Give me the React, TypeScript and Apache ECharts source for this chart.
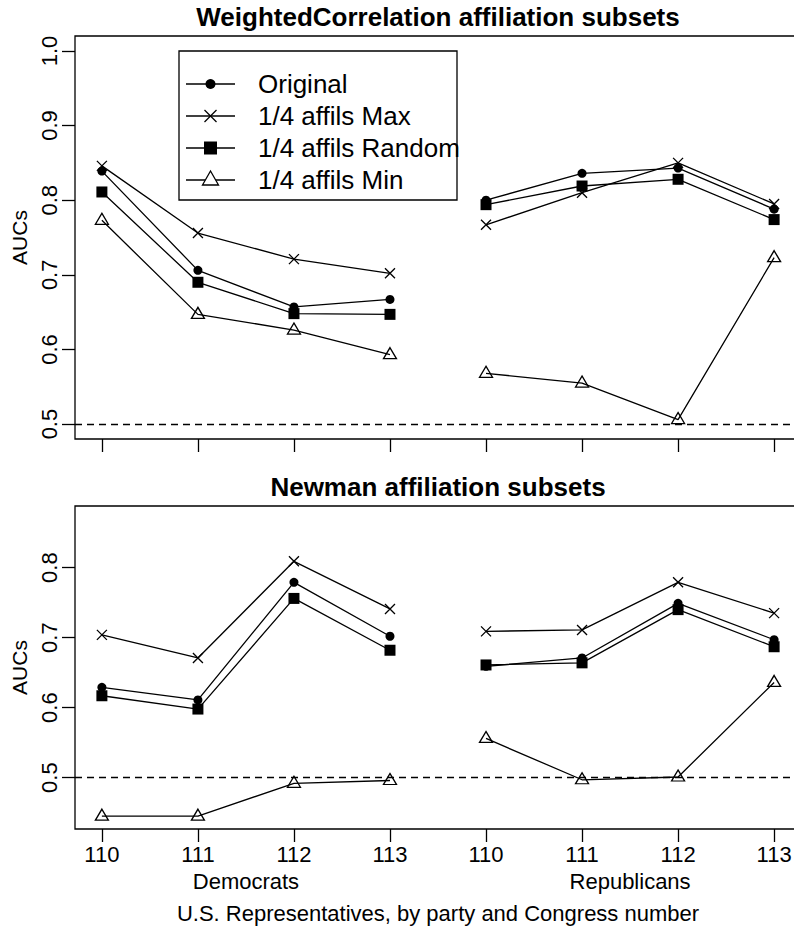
import React, { useEffect, useRef } from "react";
import * as echarts from "echarts";

const congressLabels = ["110", "111", "112", "113"];
const partyLabels = ["Democrats", "Republicans"];
const methodNames = ["Original", "1/4 affils Max", "1/4 affils Random", "1/4 affils Min"];
const panelTitles = ["WeightedCorrelation affiliation subsets", "Newman affiliation subsets"];

// values: Democrats 110-113, then Republicans 110-113
const wcOriginal = [0.839, 0.706, 0.657, 0.667, 0.8, 0.836, 0.843, 0.788];
const wcMax = [0.846, 0.756, 0.721, 0.702, 0.767, 0.81, 0.85, 0.795];
const wcRandom = [0.811, 0.69, 0.648, 0.647, 0.794, 0.819, 0.828, 0.774];
const wcMin = [0.773, 0.647, 0.626, 0.593, 0.568, 0.555, 0.506, 0.723];

const nwOriginal = [0.629, 0.611, 0.779, 0.702, 0.659, 0.671, 0.749, 0.697];
const nwMax = [0.704, 0.671, 0.809, 0.741, 0.709, 0.711, 0.779, 0.735];
const nwRandom = [0.617, 0.598, 0.756, 0.682, 0.661, 0.664, 0.74, 0.687];
const nwMin = [0.445, 0.445, 0.492, 0.496, 0.556, 0.497, 0.501, 0.636];

const yTicksTop = [0.5, 0.6, 0.7, 0.8, 0.9, 1.0];
const yTicksBottom = [0.5, 0.6, 0.7, 0.8];
const refLine = 0.5;

const FONT = "Liberation Sans, Arial, Helvetica, sans-serif";
const LW = 1.3;
const CROSS = "path://M0,0L10,10M10,0L0,10";

const symbolStyles = [
  { symbol: "circle", symbolSize: 9, itemStyle: { color: "#000", borderWidth: 0 } },
  { symbol: CROSS, symbolSize: 10, itemStyle: { color: "#000", borderColor: "#000", borderWidth: LW } },
  { symbol: "rect", symbolSize: 11, itemStyle: { color: "#000", borderWidth: 0 } },
  {
    symbol: "triangle",
    symbolSize: [13, 11],
    symbolOffset: [0, -1.5],
    itemStyle: { color: "rgba(0,0,0,0)", borderColor: "#000", borderWidth: LW },
  },
];

export default function App() {
  const ref = useRef<HTMLDivElement>(null);
  useEffect(() => {
    if (!ref.current) return;
    const chart = echarts.init(ref.current, null, { renderer: "svg" });
    const xPositions = [1, 2, 3, 4, 5, 6, 7, 8];
    const panels = [
      [wcOriginal, wcMax, wcRandom, wcMin],
      [nwOriginal, nwMax, nwRandom, nwMin],
    ];
    const series: any[] = [];
    panels.forEach((methods, g) => {
      methods.forEach((vals, m) => {
        [0, 1].forEach((p) => {
          const s: any = {
            type: "line",
            name: methodNames[m],
            xAxisIndex: g === 0 ? 0 : 1,
            yAxisIndex: g,
            data: vals.slice(p * 4, p * 4 + 4).map((v, i) => [xPositions[p * 4 + i], v]),
            lineStyle: { color: "#000", width: LW },
            showSymbol: true,
            z: 3,
            ...symbolStyles[m],
          };
          if (m === 0 && p === 0) {
            s.markLine = {
              silent: true,
              symbol: ["none", "none"],
              label: { show: false },
              lineStyle: { color: "#000", width: LW, type: [7, 5] },
              data: [{ yAxis: refLine }],
            };
          }
          series.push(s);
        });
      });
    });

    const tickStyle = { color: "#000", width: LW };
    const labelStyle = { color: "#000", fontSize: 22, fontFamily: FONT };

    const legendX = 179, legendY = 51, legendW = 278, legendH = 149;
    const rowY = [84, 116, 148, 180];
    const legendGraphics: any[] = [
      {
        type: "rect",
        shape: { x: legendX, y: legendY, width: legendW, height: legendH },
        style: { fill: "#fff", stroke: "#000", lineWidth: LW },
        z: 10,
      },
    ];
    rowY.forEach((y, i) => {
      legendGraphics.push({
        type: "line",
        shape: { x1: 186, y1: y, x2: 235, y2: y },
        style: { stroke: "#000", lineWidth: LW },
        z: 11,
      });
      const cx = 210.5;
      if (i === 0) {
        legendGraphics.push({ type: "circle", shape: { cx, cy: y, r: 5 }, style: { fill: "#000" }, z: 12 });
      } else if (i === 1) {
        legendGraphics.push({
          type: "line",
          shape: { x1: cx - 6, y1: y - 6, x2: cx + 6, y2: y + 6 },
          style: { stroke: "#000", lineWidth: LW },
          z: 12,
        });
        legendGraphics.push({
          type: "line",
          shape: { x1: cx - 6, y1: y + 6, x2: cx + 6, y2: y - 6 },
          style: { stroke: "#000", lineWidth: LW },
          z: 12,
        });
      } else if (i === 2) {
        legendGraphics.push({
          type: "rect",
          shape: { x: cx - 6.5, y: y - 6.5, width: 13, height: 13 },
          style: { fill: "#000" },
          z: 12,
        });
      } else {
        legendGraphics.push({
          type: "polygon",
          shape: { points: [[cx, y - 9], [cx - 8, y + 5], [cx + 8, y + 5]] },
          style: { fill: "#fff", stroke: "#000", lineWidth: LW },
          z: 12,
        });
      }
      legendGraphics.push({
        type: "text",
        x: 258,
        y,
        style: { text: methodNames[i], fontSize: 26, fontFamily: FONT, fill: "#000", verticalAlign: "middle", align: "left" },
        z: 12,
      });
    });

    const option: any = {
      animation: false,
      textStyle: { fontFamily: FONT },
      grid: [
        { left: 75, top: 36, width: 726, height: 403, show: true, borderColor: "#000", borderWidth: LW, backgroundColor: "transparent", outerBoundsMode: "none" },
        { left: 75, top: 506, width: 726, height: 323, show: true, borderColor: "#000", borderWidth: LW, backgroundColor: "transparent", outerBoundsMode: "none" },
      ],
      xAxis: [
        {
          gridIndex: 0,
          type: "value",
          min: 0.72,
          max: 8.28,
          axisLine: { show: false },
          splitLine: { show: false },
          axisTick: { show: true, length: 13, customValues: xPositions, lineStyle: tickStyle },
          axisLabel: { show: false },
        },
        {
          gridIndex: 1,
          type: "value",
          min: 0.72,
          max: 8.28,
          axisLine: { show: false },
          splitLine: { show: false },
          axisTick: { show: true, length: 13, customValues: xPositions, lineStyle: tickStyle },
          axisLabel: {
            show: true,
            customValues: xPositions,
            margin: 14,
            ...labelStyle,
            formatter: (v: number) => congressLabels[(Math.round(v) - 1) % 4],
          },
        },
        {
          gridIndex: 1,
          type: "value",
          position: "bottom",
          min: 0.72,
          max: 8.28,
          axisLine: { show: false },
          splitLine: { show: false },
          axisTick: { show: false },
          axisLabel: {
            show: true,
            customValues: [2.5, 6.5],
            margin: 41,
            ...labelStyle,
            formatter: (v: number) => (v < 4.5 ? partyLabels[0] : partyLabels[1]),
          },
          name: "U.S. Representatives, by party and Congress number",
          nameLocation: "middle",
          nameGap: 73,
          nameTextStyle: { ...labelStyle },
        },
      ],
      yAxis: [yTicksTop, yTicksBottom].map((ticks, g) => ({
        gridIndex: g,
        type: "value",
        min: g === 0 ? 0.48 : 0.4267,
        max: g === 0 ? 1.02 : 0.888,
        axisLine: { show: false },
        splitLine: { show: false },
        axisTick: { show: true, length: 13, customValues: ticks, lineStyle: tickStyle },
        axisLabel: {
          show: true,
          customValues: ticks,
          rotate: 90,
          margin: 15,
          ...labelStyle,
          formatter: (v: number) => v.toFixed(1),
        },
        name: "AUCs",
        nameLocation: "middle",
        nameGap: 42,
        nameRotate: 90,
        nameTextStyle: { ...labelStyle, fontSize: 21 },
      })),
      series,
      graphic: [
        {
          type: "text",
          x: 438,
          y: 17,
          style: { text: panelTitles[0], fontSize: 26, fontWeight: "bold", fontFamily: FONT, fill: "#000", align: "center", verticalAlign: "middle" },
        },
        {
          type: "text",
          x: 438,
          y: 487,
          style: { text: panelTitles[1], fontSize: 26, fontWeight: "bold", fontFamily: FONT, fill: "#000", align: "center", verticalAlign: "middle" },
        },
        ...legendGraphics,
      ],
    };
    chart.setOption(option);
    return () => chart.dispose();
  }, []);
  return (
    <div
      ref={ref}
      style={{ position: "fixed", left: 0, top: 0, width: 794, height: 928, background: "#fff" }}
    />
  );
}
